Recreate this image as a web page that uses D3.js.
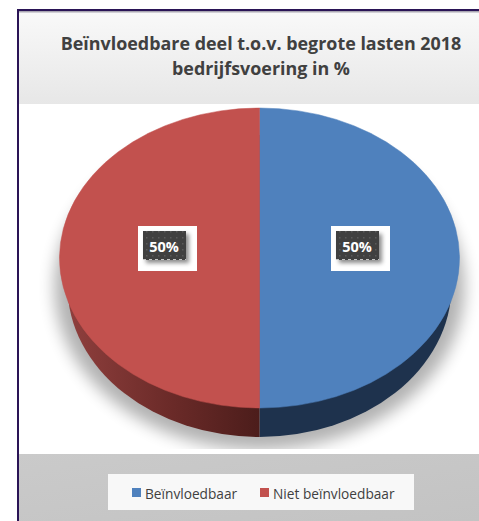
<!DOCTYPE html>
<html>
<head>
<meta charset="utf-8">
<script src="https://cdn.jsdelivr.net/npm/d3@7"></script>
<style>
html,body{margin:0;padding:0;background:#fff}
svg{display:block}
text{font-family:"Open Sans","Noto Sans",sans-serif}
</style>
</head>
<body>
<script>
// Budget share split between the two groups
const categories = ["Beïnvloedbaar", "Niet beïnvloedbaar"];
const values = [50, 50];
const sliceColors = ["#4f81bd", "#c2514e"];
const titleLines = ["Beïnvloedbare deel t.o.v. begrote lasten 2018", "bedrijfsvoering in %"];

const width = 479, height = 521;
const svg = d3.select("body").append("svg").attr("width", width).attr("height", height);
const defs = svg.append("defs");

// Header and footer band fills
const headGrad = defs.append("linearGradient").attr("id", "headBand").attr("x1", 0).attr("y1", 0).attr("x2", 0).attr("y2", 1);
headGrad.append("stop").attr("offset", 0).attr("stop-color", "#f9f9f9");
headGrad.append("stop").attr("offset", 1).attr("stop-color", "#e7e7e7");
const footGrad = defs.append("linearGradient").attr("id", "footBand").attr("x1", 0).attr("y1", 0).attr("x2", 1).attr("y2", 1);
footGrad.append("stop").attr("offset", 0).attr("stop-color", "#cacaca");
footGrad.append("stop").attr("offset", 1).attr("stop-color", "#c3c3c3");

// Side wall shading of the red half
const redWall = defs.append("linearGradient").attr("id", "wallFill").attr("x1", 0).attr("x2", 1).attr("y1", 0).attr("y2", 0);
redWall.append("stop").attr("offset", 0).attr("stop-color", "#8f3f3d");
redWall.append("stop").attr("offset", 0.55).attr("stop-color", "#6a2a28");
redWall.append("stop").attr("offset", 1).attr("stop-color", "#4c1d1b");

const blur = defs.append("filter").attr("id", "soft").attr("x", "-20%").attr("y", "-20%").attr("width", "140%").attr("height", "140%");
blur.append("feGaussianBlur").attr("stdDeviation", 8);
const labelShadow = defs.append("filter").attr("id", "labelShadow").attr("x", "-30%").attr("y", "-30%").attr("width", "160%").attr("height", "160%");
labelShadow.append("feDropShadow").attr("dx", 3).attr("dy", 3).attr("stdDeviation", 2).attr("flood-color", "#000").attr("flood-opacity", 0.45);

// Fine dot texture on the value label plates
const dots = defs.append("pattern").attr("id", "plateDots").attr("patternUnits", "userSpaceOnUse").attr("width", 6).attr("height", 6);
dots.append("rect").attr("width", 6).attr("height", 6).attr("fill", "#404040");
dots.append("rect").attr("x", 2).attr("y", 2).attr("width", 1.5).attr("height", 1.5).attr("fill", "#5a5a5a");

const frame = {x: 18, y: 10};
const headBottom = 104, footTop = 454;

svg.append("rect").attr("x", frame.x).attr("y", frame.y).attr("width", width - frame.x).attr("height", headBottom - frame.y).attr("fill", "url(#headBand)");
svg.append("rect").attr("x", frame.x).attr("y", footTop).attr("width", width - frame.x).attr("height", height - footTop).attr("fill", "url(#footBand)");
svg.append("rect").attr("x", frame.x).attr("y", 11).attr("width", width - frame.x).attr("height", 1.5).attr("fill", "#a9a6b2");
svg.append("path")
  .attr("d", `M${frame.x},${height}V${frame.y}H${width}`)
  .attr("fill", "none").attr("stroke", "#2a1456").attr("stroke-width", 2);

// Title
const title = svg.append("text").attr("text-anchor", "middle").attr("fill", "#404040")
  .attr("font-size", 17.9).attr("font-weight", 700);
titleLines.forEach((line, i) => title.append("tspan").attr("x", 261).attr("y", 50 + i * 25).text(line));

// Elliptical disc: slices are laid out by d3.pie and flattened with a scale transform
const cx = 259.5, cy = 258, rx = 200, ry = 150;
const wallRx = 192, wallRy = 151, wallCy = 286;
const pie = d3.pie().sort(null);
const arcs = pie(values);
const arcGen = d3.arc().innerRadius(0).outerRadius(1);

// Soft floor shadow, cut off where the footer band begins
svg.append("clipPath").attr("id", "floorClip").append("rect").attr("x", 0).attr("y", 0).attr("width", width).attr("height", 449);
svg.append("g").attr("clip-path", "url(#floorClip)")
  .append("ellipse").attr("cx", cx).attr("cy", 287).attr("rx", 205).attr("ry", 163)
  .attr("fill", "#000").attr("opacity", 0.3).attr("filter", "url(#soft)");

// Wall: the same slices, drawn narrower and lower, showing below the top face
svg.append("g").selectAll("path").data(arcs).join("path")
  .attr("d", arcGen)
  .attr("transform", `translate(${cx},${wallCy}) scale(${wallRx},${wallRy})`)
  .attr("fill", (d, i) => i === 0 ? "#1e324d" : "url(#wallFill)");

// Top face; a hairline of the slice colour closes the seam between the halves
svg.append("g").selectAll("path").data(arcs).join("path")
  .attr("d", arcGen)
  .attr("transform", `translate(${cx},${cy}) scale(${rx},${ry})`)
  .attr("fill", (d, i) => sliceColors[i])
  .attr("stroke", (d, i) => sliceColors[i])
  .attr("stroke-width", 0.5)
  .attr("vector-effect", "non-scaling-stroke");

// Value labels centred on each half of the top face
const labelCx = d3.scaleOrdinal().domain(categories).range([361, 168]);
const labels = svg.append("g").selectAll("g").data(arcs).join("g")
  .attr("transform", (d, i) => `translate(${labelCx(categories[i])},247)`);
labels.append("rect").attr("x", -30).attr("y", -21).attr("width", 59).attr("height", 45).attr("fill", "#fff");
labels.append("rect").attr("x", -25).attr("y", -16).attr("width", 43).attr("height", 29).attr("fill", "url(#plateDots)").attr("filter", "url(#labelShadow)");
labels.append("line").attr("x1", -25).attr("x2", 18).attr("y1", 12.5).attr("y2", 12.5)
  .attr("stroke", "#c4c4c4").attr("stroke-width", 1).attr("stroke-dasharray", "3 3");
labels.append("text").attr("x", -4).attr("y", 5).attr("text-anchor", "middle")
  .attr("fill", "#fff").attr("font-size", 14.5).attr("font-weight", 700)
  .text(d => d.data + "%");

// Legend
svg.append("rect").attr("x", 108).attr("y", 474).attr("width", 306).attr("height", 36).attr("fill", "#f8f8f8");
const legendX = d3.scaleOrdinal().domain(categories).range([132, 260]);
const legend = svg.append("g").selectAll("g").data(categories).join("g")
  .attr("transform", d => `translate(${legendX(d)},488)`);
legend.append("rect").attr("width", 9).attr("height", 9).attr("fill", (d, i) => sliceColors[i]);
legend.append("text").attr("x", 13).attr("y", 11).attr("fill", "#404040").attr("font-size", 13.7).text(d => d);
</script>
</body>
</html>
